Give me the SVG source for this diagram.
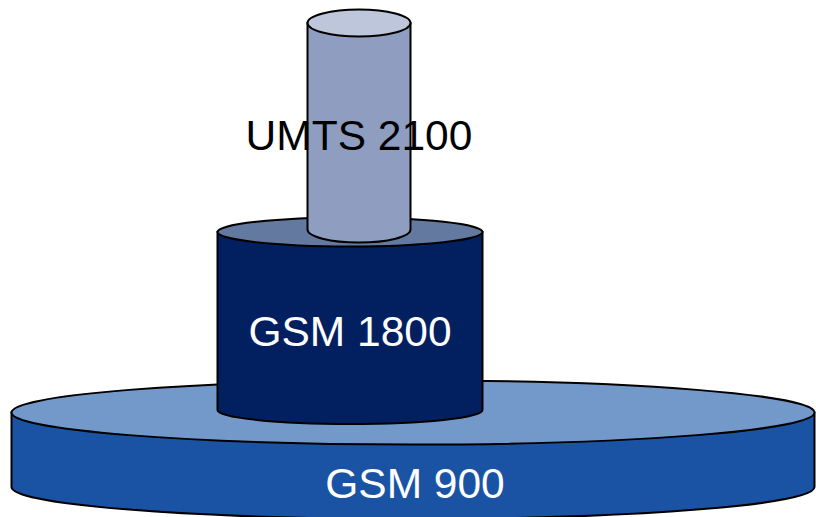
<svg xmlns="http://www.w3.org/2000/svg" width="816" height="517" viewBox="0 0 816 517">
<style>
.edge{stroke:#000;stroke-width:2;}
.lbl{font-family:"Liberation Sans",Arial,sans-serif;font-size:42.5px;text-anchor:middle;}
</style>
<rect width="816" height="517" fill="#fff"/>
<g id="gsm900">
<path class="edge" fill="#1b53a4" d="M11.5,412.5 L11.5,487 A401.5,32 0 0 0 814.5,487 L814.5,412.5 Z"/>
<ellipse class="edge" fill="#7399cb" cx="413" cy="412.5" rx="401.5" ry="32"/>
</g>
<g id="gsm1800">
<path class="edge" fill="#02205f" d="M217.5,232 L217.5,410 A132.5,14 0 0 0 482.5,410 L482.5,232 Z"/>
<ellipse class="edge" fill="#63799f" cx="350" cy="232" rx="132.5" ry="14.5"/>
</g>
<g id="umts2100">
<path class="edge" fill="#8f9ec0" d="M307.5,23 L307.5,229.5 A51.5,13 0 0 0 410.5,229.5 L410.5,23 Z"/>
<ellipse class="edge" fill="#bec6db" cx="359" cy="23" rx="51.5" ry="13.5"/>
</g>
<text class="lbl" x="359" y="149.5" fill="#000">UMTS 2100</text>
<text class="lbl" x="350" y="345.5" fill="#fff">GSM 1800</text>
<text class="lbl" x="415" y="497.5" fill="#fff">GSM 900</text>
</svg>
